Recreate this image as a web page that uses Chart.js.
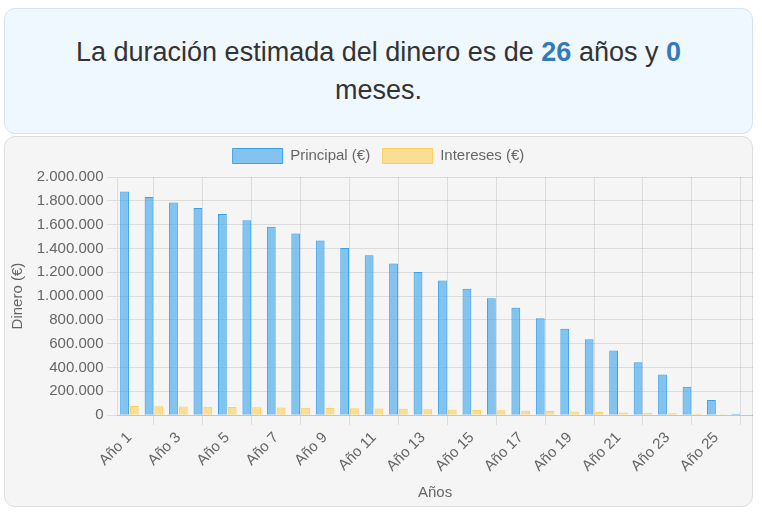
<!DOCTYPE html>
<html>
<head>
<meta charset="utf-8">
<script src="https://cdn.jsdelivr.net/npm/chart.js@4.4.1/dist/chart.umd.min.js"></script>
<style>
  html, body { margin: 0; padding: 0; background: #ffffff; }
  body { width: 762px; height: 515px; position: relative; overflow: hidden; font-family: "Liberation Sans", Arial, sans-serif; }
  #summary {
    position: absolute; left: 4px; top: 8px; width: 747px; height: 124px;
    background: #f0f8ff; border: 1px solid #d5e3ef; border-radius: 11px;
    box-sizing: content-box;
    display: flex; align-items: center; justify-content: center; text-align: center;
  }
  #summary p { margin: 0; padding: 0 60px; font-size: 27px; line-height: 38px; color: #333333; }
  #summary b { color: #337ab7; }
  #chartBox {
    position: absolute; left: 4px; top: 136px; width: 747px; height: 369px;
    background: #f5f5f5; border: 1px solid #dddddd; border-radius: 11px;
  }
  #chartWrap { position: absolute; left: 4px; top: 136px; width: 749px; height: 371px; }
</style>
</head>
<body>
<div id="summary"><p>La duración estimada del dinero es de <b>26</b> años y <b>0</b> meses.</p></div>
<div id="chartBox"></div>
<div id="chartWrap"><canvas id="c"></canvas></div>
<script>
const categories = ["Año 1","Año 2","Año 3","Año 4","Año 5","Año 6","Año 7","Año 8","Año 9","Año 10",
  "Año 11","Año 12","Año 13","Año 14","Año 15","Año 16","Año 17","Año 18","Año 19","Año 20",
  "Año 21","Año 22","Año 23","Año 24","Año 25","Año 26"];
const principal = [1878000, 1831000, 1786000, 1739000, 1689000, 1636000, 1583000, 1525000, 1466000, 1404000,
  1343000, 1274000, 1203000, 1131000, 1061000, 981000, 902000, 813000, 726000, 638000,
  542000, 445000, 341000, 238000, 127000, 12000];
const intereses = [77000, 75000, 73000, 71000, 69000, 67000, 65000, 63000, 61000, 58000,
  56000, 53000, 50000, 47000, 44000, 41000, 38000, 34000, 30000, 27000,
  23000, 19000, 15000, 11000, 7000, 3000];
const yTicks = [0, 200000, 400000, 600000, 800000, 1000000, 1200000, 1400000, 1600000, 1800000, 2000000];

function fmt(v) {
  return String(Math.round(v)).replace(/\B(?=(\d{3})+(?!\d))/g, ".");
}

Chart.defaults.font.family = '"Liberation Sans", Arial, Helvetica, sans-serif';
Chart.defaults.font.size = 15;
Chart.defaults.color = '#666666';

const legendGap = {
  id: 'legendGap',
  beforeInit(chart) {
    const origFit = chart.legend.fit;
    chart.legend.fit = function () { origFit.bind(this)(); this.height += 3.5; };
  }
};

new Chart(document.getElementById('c'), {
  type: 'bar',
  data: {
    labels: categories,
    datasets: [
      { label: 'Principal (€)', data: principal,
        backgroundColor: 'rgba(54,162,235,0.6)', borderColor: 'rgba(54,162,235,1)', borderWidth: 1 },
      { label: 'Intereses (€)', data: intereses,
        backgroundColor: 'rgba(255,206,86,0.6)', borderColor: 'rgba(255,206,86,1)', borderWidth: 1 }
    ]
  },
  plugins: [legendGap],
  options: {
    responsive: true,
    maintainAspectRatio: false,
    animation: false,
    layout: { padding: 0 },
    plugins: {
      legend: {
        position: 'top',
        labels: { boxWidth: 50, boxHeight: 15, padding: 12.5, font: { size: 15 }, color: '#666666' }
      },
      tooltip: { enabled: false }
    },
    scales: {
      x: {
        grid: { color: 'rgba(0,0,0,0.1)', tickLength: 10 },
        ticks: { minRotation: 45, maxRotation: 45, padding: 3.75, font: { size: 15 }, color: '#666666' },
        title: { display: true, text: 'Años', font: { size: 15 }, color: '#666666', padding: { top: 5, bottom: 5 } }
      },
      y: {
        min: 0, max: 2000000,
        afterBuildTicks: (axis) => { axis.ticks = yTicks.map(v => ({ value: v })); },
        grid: { color: 'rgba(0,0,0,0.1)', tickLength: 10 },
        ticks: { padding: 3.75, font: { size: 15 }, color: '#666666', callback: (v) => fmt(v) },
        title: { display: true, text: 'Dinero (€)', font: { size: 15 }, color: '#666666', padding: { top: 5, bottom: 6 } }
      }
    }
  }
});
</script>
</body>
</html>
